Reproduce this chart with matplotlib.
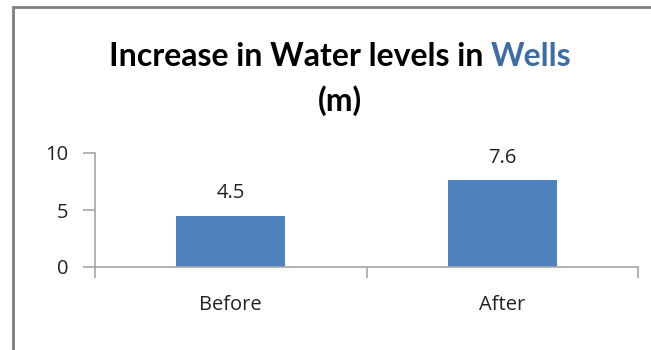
import matplotlib
matplotlib.use("Agg")
import matplotlib.pyplot as plt
from matplotlib.patches import Rectangle

plt.rcParams['font.family'] = ['Open Sans', 'DejaVu Sans']

categories = ["Before", "After"]
levels = [4.5, 7.6]
y_ticks = [0, 5, 10]

bar_color = "#4F81BD"
axis_gray = "#A6A6A6"
label_size = 14.5

fig = plt.figure(figsize=(6.51, 3.5), dpi=100)
ax = fig.add_axes([95 / 651, 1 - 267 / 350, (638 - 95) / 651, (267 - 153) / 350])

x = list(range(len(categories)))
ax.bar(x, levels, width=0.4, color=bar_color, zorder=2)
for xi, v in zip(x, levels):
    ax.text(xi, v + 1.1, f"{v}", ha="center", va="bottom", fontsize=label_size, color="#222222")

ax.set_xlim(-0.5, len(categories) - 0.5)
ax.set_ylim(0, 10)
ax.set_yticks(y_ticks)
ax.set_xticks(x)
ax.set_xticklabels(categories)
ax.set_xticks([i - 0.5 for i in range(len(categories) + 1)], minor=True)
ax.tick_params(axis="x", which="major", length=0, pad=20, labelsize=label_size, labelcolor="#222222")
ax.tick_params(axis="x", which="minor", length=8, width=1.2, color=axis_gray)
ax.tick_params(axis="y", length=9, width=1.2, color=axis_gray, pad=10, labelsize=label_size, labelcolor="#222222")

for side in ["top", "right"]:
    ax.spines[side].set_visible(False)
for side in ["left", "bottom"]:
    ax.spines[side].set_color(axis_gray)
    ax.spines[side].set_linewidth(1.2)

# outer chart frame, running off the right and bottom edges
fig.patches.append(Rectangle((12.5 / 651, -0.1), 1.2, 1.1 - 6.5 / 350, transform=fig.transFigure,
                             fill=False, edgecolor="#7F7F7F", linewidth=2))

# two-colour title: measure the black part, then place "Wells" after it
title_kw = dict(fontsize=23, fontweight="bold", va="center", family=['Lato', 'DejaVu Sans'])
part1 = fig.text(0, 1 - 57 / 350, "Increase in Water levels in ", color="black", **title_kw)
part2 = fig.text(0, 1 - 57 / 350, "Wells", color="#3D6DA3", **title_kw)
fig.canvas.draw()
r = fig.canvas.get_renderer()
w1 = part1.get_window_extent(r).width
w2 = part2.get_window_extent(r).width
start = (340 - (w1 + w2) / 2) / fig.bbox.width
part1.set_x(start)
part2.set_x(start + w1 / fig.bbox.width)
fig.text(340 / 651, 1 - 101 / 350, "(m)", ha="center", color="black", **title_kw)

fig.savefig("out.png", dpi=100)
